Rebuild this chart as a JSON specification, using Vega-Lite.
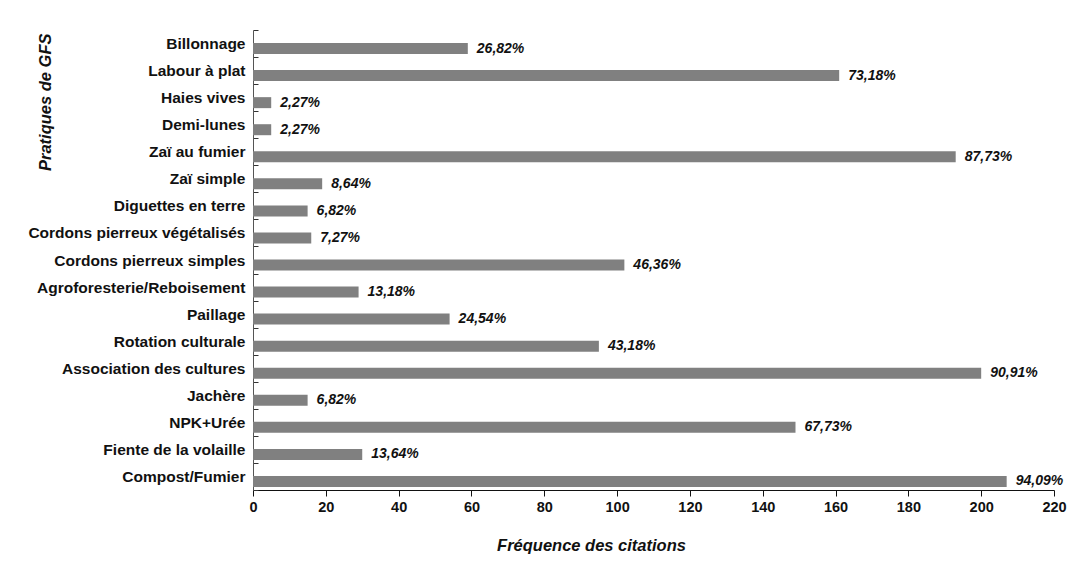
{
  "$schema": "https://vega.github.io/schema/vega-lite/v6.json",
  "autosize": "none",
  "width": 801,
  "height": 460,
  "padding": {"left": 253, "top": 30, "right": 14, "bottom": 72},
  "background": "white",
  "config": {
    "font": "Liberation Sans",
    "view": {"stroke": null}
  },
  "data": {
    "values": [
      {"pratique": "Billonnage", "freq": 59, "pct": "26,82%"},
      {"pratique": "Labour à plat", "freq": 161, "pct": "73,18%"},
      {"pratique": "Haies vives", "freq": 5, "pct": "2,27%"},
      {"pratique": "Demi-lunes", "freq": 5, "pct": "2,27%"},
      {"pratique": "Zaï au fumier", "freq": 193, "pct": "87,73%"},
      {"pratique": "Zaï simple", "freq": 19, "pct": "8,64%"},
      {"pratique": "Diguettes en terre", "freq": 15, "pct": "6,82%"},
      {"pratique": "Cordons pierreux végétalisés", "freq": 16, "pct": "7,27%"},
      {"pratique": "Cordons pierreux simples", "freq": 102, "pct": "46,36%"},
      {"pratique": "Agroforesterie/Reboisement ", "freq": 29, "pct": "13,18%"},
      {"pratique": "Paillage", "freq": 54, "pct": "24,54%"},
      {"pratique": "Rotation culturale", "freq": 95, "pct": "43,18%"},
      {"pratique": "Association des cultures", "freq": 200, "pct": "90,91%"},
      {"pratique": "Jachère", "freq": 15, "pct": "6,82%"},
      {"pratique": "NPK+Urée ", "freq": 149, "pct": "67,73%"},
      {"pratique": "Fiente de la volaille", "freq": 30, "pct": "13,64%"},
      {"pratique": "Compost/Fumier", "freq": 207, "pct": "94,09%"}
    ]
  },
  "encoding": {
    "y": {
      "field": "pratique",
      "type": "nominal",
      "sort": null,
      "scale": {"paddingInner": 0, "paddingOuter": 0},
      "axis": {
        "title": "Pratiques de GFS",
        "titleFontSize": 16.5,
        "titleFontWeight": "bold",
        "titleFontStyle": "italic",
        "titleColor": "#111111",
        "titleX": -208,
        "titleY": 3,
        "titleAlign": "right",
        "titleBaseline": "middle",
        "titleAngle": -90,
        "labelFontSize": 15.5,
        "labelFontWeight": "bold",
        "labelColor": "#111111",
        "labelPadding": 13,
        "tickBand": "extent",
        "tickSize": -5,
        "tickColor": "#333333",
        "domainColor": "#555555",
        "labelLimit": 400
      }
    }
  },
  "layer": [
    {
      "mark": {"type": "bar", "color": "#808080", "size": 11, "yOffset": 5},
      "encoding": {
        "x": {
          "field": "freq",
          "type": "quantitative",
          "scale": {"domain": [0, 220], "nice": false},
          "axis": {
            "title": "Fréquence des citations",
            "titleFontSize": 16.5,
            "titleFontWeight": "bold",
            "titleFontStyle": "italic",
            "titleColor": "#111111",
            "titleX": 338,
            "titleY": 55,
            "titleAlign": "center",
            "titleBaseline": "middle",
            "values": [0, 10, 20, 30, 40, 50, 60, 70, 80, 90, 100, 110, 120, 130, 140, 150, 160, 170, 180, 190, 200, 210, 220],
            "labelExpr": "datum.value % 20 === 0 ? datum.label : ''",
            "labelFontSize": 14.5,
            "labelFontWeight": "bold",
            "labelColor": "#111111",
            "labelPadding": 4,
            "labelFlush": false,
            "labelOverlap": false,
            "tickSize": {"condition": {"test": "datum.value % 20 === 0", "value": 6}, "value": 4},
            "tickColor": "#111111",
            "domainColor": "#111111",
            "grid": false
          }
        }
      }
    },
    {
      "mark": {
        "type": "text",
        "align": "left",
        "baseline": "middle",
        "dx": 9,
        "yOffset": 5,
        "fontSize": 14,
        "fontWeight": "bold",
        "fontStyle": "italic",
        "color": "#111111"
      },
      "encoding": {
        "x": {"field": "freq", "type": "quantitative"},
        "text": {"field": "pct"}
      }
    }
  ]
}
